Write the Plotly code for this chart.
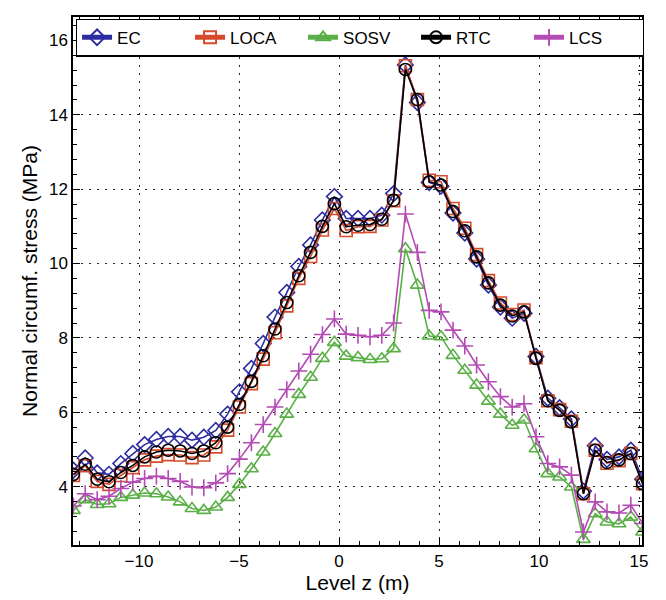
import plotly.graph_objects as go

z = [-13.28, -12.69, -12.09, -11.50, -10.91, -10.31, -9.72, -9.13, -8.54, -7.94,
     -7.35, -6.76, -6.16, -5.57, -4.98, -4.38, -3.79, -3.20, -2.61, -2.01,
     -1.42, -0.83, -0.23, 0.36, 0.95, 1.55, 2.14, 2.73, 3.32, 3.92,
     4.51, 5.10, 5.70, 6.29, 6.88, 7.47, 8.07, 8.66, 9.25, 9.85,
     10.44, 11.03, 11.62, 12.22, 12.81, 13.40, 14.00, 14.59, 15.18]

ec = [4.44, 4.77, 4.37, 4.33, 4.62, 4.89, 5.13, 5.27, 5.35, 5.35,
      5.25, 5.33, 5.51, 5.95, 6.55, 7.18, 7.85, 8.56, 9.22, 9.92,
      10.50, 11.17, 11.80, 11.21, 11.21, 11.21, 11.30, 11.88, 15.34, 14.33,
      12.18, 12.08, 11.36, 10.82, 10.12, 9.42, 8.83, 8.53, 8.66, 7.50,
      6.38, 6.12, 5.82, 3.88, 5.10, 4.73, 4.80, 4.98, 4.20]

loca = [4.30, 4.56, 4.14, 4.06, 4.30, 4.51, 4.72, 4.82, 4.86, 4.85,
        4.78, 4.85, 5.07, 5.52, 6.14, 6.77, 7.43, 8.14, 8.86, 9.60,
        10.19, 10.90, 11.48, 10.89, 10.99, 11.00, 11.17, 11.69, 15.32, 14.41,
        12.24, 12.20, 11.48, 10.95, 10.24, 9.54, 8.94, 8.63, 8.75, 7.47,
        6.31, 6.07, 5.76, 3.81, 4.98, 4.63, 4.70, 4.89, 4.08]

sosv = [3.36, 3.65, 3.52, 3.54, 3.71, 3.77, 3.83, 3.81, 3.72, 3.59,
        3.41, 3.36, 3.45, 3.71, 4.06, 4.48, 4.93, 5.43, 5.95, 6.48,
        6.94, 7.45, 7.88, 7.51, 7.47, 7.42, 7.44, 7.71, 10.40, 9.42,
        8.05, 8.03, 7.53, 7.13, 6.73, 6.30, 5.95, 5.65, 5.79, 5.02,
        4.35, 4.26, 3.99, 2.58, 3.27, 3.05, 3.00, 3.18, 2.78]

rtc = [4.33, 4.60, 4.20, 4.13, 4.38, 4.57, 4.80, 4.93, 4.98, 4.96,
       4.89, 4.96, 5.18, 5.60, 6.21, 6.83, 7.52, 8.24, 8.95, 9.67,
       10.30, 11.00, 11.61, 10.99, 11.03, 11.05, 11.19, 11.70, 15.22, 14.41,
       12.20, 12.11, 11.40, 10.88, 10.18, 9.48, 8.88, 8.59, 8.70, 7.45,
       6.31, 6.05, 5.74, 3.81, 4.98, 4.65, 4.72, 4.89, 4.08]

lcs = [3.48, 3.81, 3.65, 3.74, 3.95, 4.12, 4.22, 4.28, 4.22, 4.14,
       3.99, 3.97, 4.10, 4.35, 4.74, 5.18, 5.67, 6.14, 6.61, 7.11,
       7.56, 8.09, 8.51, 8.10, 8.07, 8.03, 8.07, 8.40, 11.33, 10.30,
       8.74, 8.70, 8.21, 7.78, 7.27, 6.82, 6.42, 6.14, 6.23, 5.34,
       4.62, 4.53, 4.31, 2.78, 3.59, 3.32, 3.29, 3.50, 3.01]

series = [
    ("EC", ec, "rgb(45,45,160)", "diamond-open"),
    ("LOCA", loca, "rgb(215,75,45)", "square-open"),
    ("SOSV", sosv, "rgb(90,175,70)", "triangle-up-open"),
    ("RTC", rtc, "rgb(0,0,0)", "circle-open"),
    ("LCS", lcs, "rgb(180,75,180)", "cross-thin-open"),
]

fig = go.Figure()
for name, vals, col, sym in series:
    fig.add_trace(go.Scatter(
        x=z, y=vals, name=name, mode="lines+markers",
        line=dict(color=col, width=1.6),
        marker=dict(symbol=sym, size=12, color=col, line=dict(color=col, width=1.6)),
    ))

font = "Liberation Sans, Arial, sans-serif"
axis_common = dict(
    showline=True, linecolor="black", linewidth=1.5, mirror="allticks",
    ticks="inside", ticklen=7, tickcolor="black", tickwidth=1,
    showgrid=True, gridcolor="rgba(0,0,0,0.85)", gridwidth=1, griddash="2px,6px",
    zeroline=False, tickfont=dict(family=font, size=17, color="black"),
)

fig.update_xaxes(range=[-13.3, 15.15], tickvals=[-10, -5, 0, 5, 10, 15],
                 minor=dict(dtick=1, tick0=0, ticks="inside", ticklen=4, tickcolor="black", showgrid=False),
                 title=dict(text="Level z (m)", font=dict(family=font, size=21, color="black"), standoff=2),
                 **axis_common)
fig.update_yaxes(range=[2.43, 16.63], tickvals=[4, 6, 8, 10, 12, 14, 16],
                 minor=dict(dtick=0.4, tick0=0, ticks="inside", ticklen=4, tickcolor="black", showgrid=False),
                 title=dict(text="Normal circumf. stress (MPa)", font=dict(family=font, size=21, color="black"), standoff=6),
                 **axis_common)

fig.update_layout(
    width=666, height=600,
    margin=dict(l=73, r=24, t=17, b=55),
    plot_bgcolor="white", paper_bgcolor="white",
    font=dict(family=font, size=17, color="black"),
    legend=dict(orientation="h", x=0.005, y=0.997, xanchor="left", yanchor="top",
                bordercolor="black", borderwidth=1.2, bgcolor="white",
                entrywidth=68, entrywidthmode="pixels",
                font=dict(family=font, size=17, color="black"),
                itemsizing="constant"),
    showlegend=True,
)

fig.write_html("out.html")
